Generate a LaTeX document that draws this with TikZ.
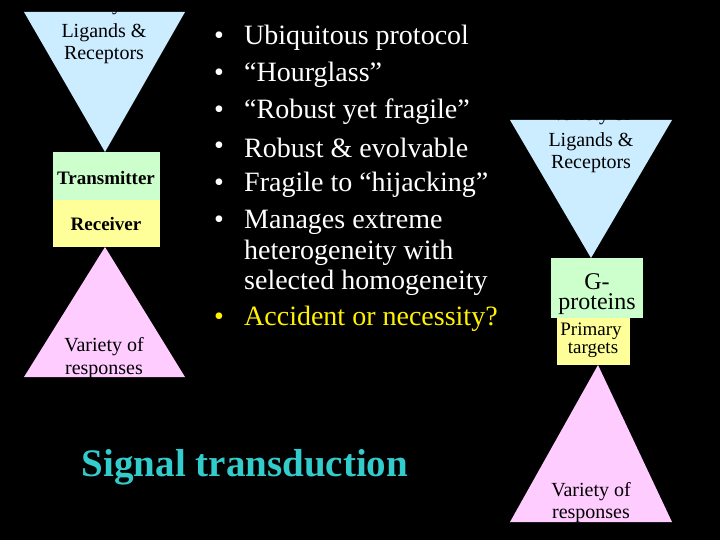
\documentclass[tikz,border=0pt]{standalone}
\usepackage{fontspec}
\setmainfont{Liberation Serif}
\begin{document}
\begin{tikzpicture}[x=1pt,y=-1pt,
  lbl/.style={font=\fontsize{20}{21}\selectfont,align=center,text=black,inner sep=0},
  bul/.style={anchor=west,font=\fontsize{28}{30}\selectfont,text=white,inner sep=0,align=left},
  dot/.style={anchor=center,font=\fontsize{28}{30}\selectfont,text=white,inner sep=0}]
\useasboundingbox[fill=black] (0,0) rectangle (720,540);
\definecolor{lblue}{HTML}{CCECFF}
\definecolor{lgreen}{HTML}{CCFFCC}
\definecolor{lyellow}{HTML}{FFFF99}
\definecolor{lpink}{HTML}{FFCCFF}
\definecolor{sigcyan}{HTML}{33CCCC}
% left hourglass
\fill[lblue] (24,12) -- (185,12) -- (105,152) -- cycle;
\fill[lpink] (105,247) -- (185,377) -- (24,377) -- cycle;
\fill[lgreen] (53,152) rectangle (160,200);
\fill[lyellow] (53,200) rectangle (160,247);
\begin{scope}
\clip (24,12) rectangle (185,377);
\node[lbl] (l1) at (104,6) {Variety of};
\node[lbl] (l2) at (104,33) {Ligands \&};
\node[lbl] (l3) at (104,55) {Receptors};
\node[lbl] (l4) at (104,347) {Variety of};
\node[lbl] (l5) at (104,372) {responses};
\end{scope}
\node[lbl,font=\fontsize{19}{20}\selectfont\bfseries] (tr) at (106,178) {Transmitter};
\node[lbl,font=\fontsize{19}{20}\selectfont\bfseries] (re) at (106,224) {Receiver};
% right hourglass
\fill[lblue] (510,120) -- (672,120) -- (591,258) -- cycle;
\fill[lpink] (598,365) -- (672,522) -- (510,522) -- cycle;
\fill[lgreen] (551,258) rectangle (643,318);
\fill[lyellow] (557,318) rectangle (630,365);
\begin{scope}
\clip (510,120) rectangle (672,522);
\node[lbl] (r1) at (591,116) {Variety of};
\node[lbl] (r2) at (591,142) {Ligands \&};
\node[lbl] (r3) at (591,164) {Receptors};
\node[lbl] (r4) at (591,492) {Variety of};
\node[lbl] (r5) at (591,516) {responses};
\end{scope}
\node[lbl,font=\fontsize{24}{25}\selectfont] (g1) at (597,282) {G-};
\node[lbl,font=\fontsize{24}{25}\selectfont] (g2) at (597,304) {proteins};
\node[lbl,font=\fontsize{19}{20}\selectfont] (p1) at (591,331) {Primary};
\node[lbl,font=\fontsize{19}{20}\selectfont] (p2) at (593,350) {targets};
% bullets
\foreach \y/\t [count=\i] in {38/Ubiquitous protocol,75/“Hourglass”,112/“Robust yet fragile”,148/Robust \& evolvable,185/Fragile to “hijacking”,222/Manages extreme}{
  \node[dot] (d\i) at (219,\y) {•};
  \node[bul] (b\i) at (244,\y) {\t};
}
\node[bul] (b7) at (244,253) {heterogeneity with};
\node[bul] (b8) at (244,283) {selected homogeneity};
\node[dot,text=yellow] (d9) at (219,319) {•};
\node[bul,text=yellow] (b9) at (244,319) {Accident or necessity?};
\node[font=\fontsize{39}{40}\selectfont\bfseries,text=sigcyan,inner sep=0] (sig) at (245,467) {Signal transduction};
\end{tikzpicture}
\end{document}
